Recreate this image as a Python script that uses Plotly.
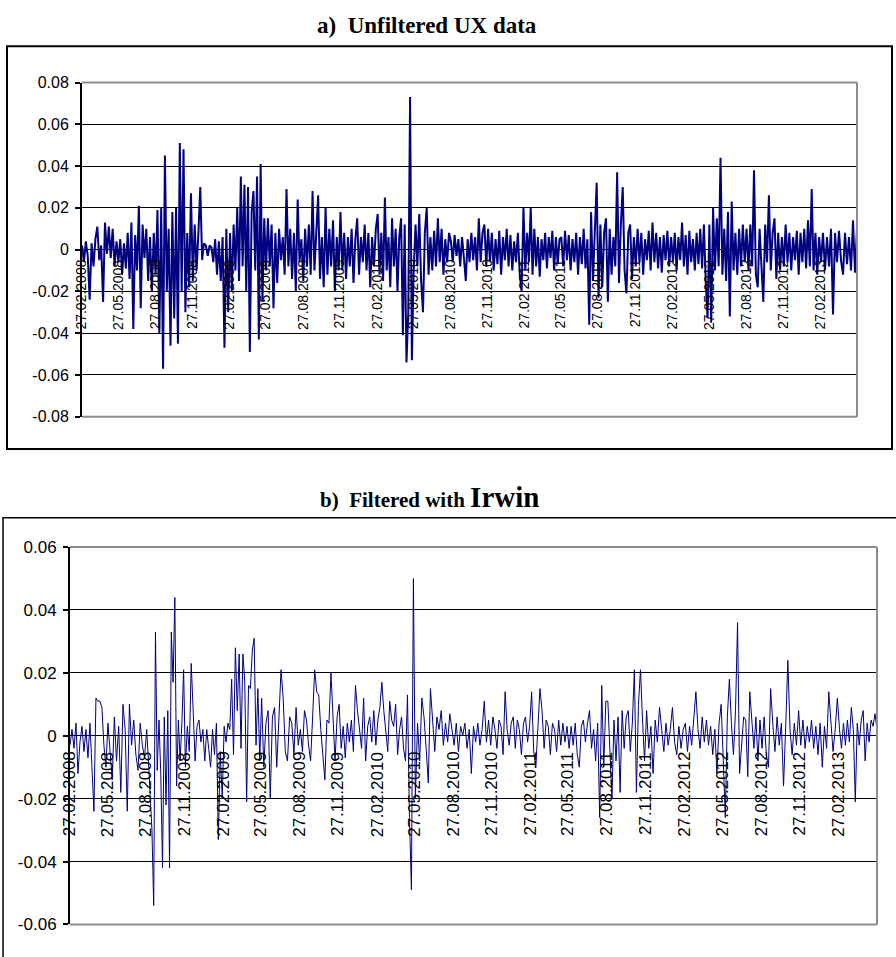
import numpy as np
import pandas as pd
import plotly.graph_objects as go

W, H = 896, 957

# Quarter labels on the category axis (one row of values per quarter below)
quarter_labels = [
    "27.02.2008", "27.05.2008", "27.08.2008", "27.11.2008",
    "27.02.2009", "27.05.2009", "27.08.2009", "27.11.2009",
    "27.02.2010", "27.05.2010", "27.08.2010", "27.11.2010",
    "27.02.2011", "27.05.2011", "27.08.2011", "27.11.2011",
    "27.02.2012", "27.05.2012", "27.08.2012", "27.11.2012",
    "27.02.2013",
]
series_end = "27.05.2013"

# a) unfiltered UX returns, in thousandths, one row per quarter
unfiltered = [
    [2, -6, 4, -3, -24, 3, -8, 5, 11, -5, 2, -25, 13, -2, 11, -4, 10, -8, 4],
    [-6, 5, -12, 3, -9, 8, -14, 13, -38, 7, -10, 21, -28, 12, -4, 10, -15, 6, -20, 8],
    [-12, 19, -40, 20, -57, 45, -20, 10, -46, 18, -33, 20, -45, 51, -20, 48, -30, 8, -18, 27],
    [-15, 12, -10, 8, 30, -5, 3, 2, -3, 2, 1, -6, 5, -12, 4, -15, 6, -47, 10, -30],
    [8, -20, 12, -10, 20, -15, 35, -8, 31, -20, 30, -49, 18, 28, -10, 35, -43, 41, -25, 15],
    [-10, 15, -8, 12, -28, 8, -16, 10, -5, 6, -12, 29, -8, 10, -14, 8, -20, 24, -6, 5],
    [-15, 10, -8, 12, -12, 28, -10, 8, 26, -14, 6, -18, 20, -12, 10, -8, 14, -20, 6, -10],
    [18, -10, 8, -14, 6, -8, 10, -16, 5, 15, -12, 6, -6, 12, -10, 8, -18, 6, -8, 10],
    [17, -12, 8, -15, 25, -10, 6, -18, 15, -8, 10, -20, 6, 15, -41, 12, -54, -30, 73, -53],
    [-10, 12, -8, 17, -15, -30, 8, 20, -12, 6, -10, 9, -8, 15, -6, 10, -12, 5, -6, 8],
    [4, -6, 7, -3, 5, -8, 6, -4, -15, 5, -6, 8, -5, 6, -10, 15, -6, 8, 12, -8],
    [10, -6, 8, -10, 5, -7, 9, -12, 6, -5, 10, -8, 7, -10, 4, -6, 8, -12, -20, 20],
    [-10, 8, -6, 20, -12, 10, -8, 6, -13, 5, -5, 8, -9, 6, -4, 9, -10, 6, -7, 5],
    [6, -8, 9, -5, 7, -10, 5, -6, 8, -12, 6, -7, 10, -9, 5, -36, 18, -15, 10, 32],
    [-23, 12, -18, 8, 15, -25, 10, -12, 6, -8, 37, -16, 12, 30, -10, -21, 8, 12, -14, 6],
    [-8, 10, -6, 8, -12, 5, -5, 9, -10, 13, -6, 8, -9, 6, -11, 7, -5, 9, -8, 6],
    [-6, 8, -10, 6, -5, 13, -8, 7, -12, 9, -6, 5, -10, 8, -7, 10, -9, 12, -15, -33],
    [12, -35, 20, -10, 15, -8, 44, -12, 10, -15, 18, -32, 23, -10, 8, -12, 10, -8, 12, -6],
    [10, -10, 12, -8, 38, -12, -18, 10, -8, -25, 12, -6, 26, -10, 8, 15, -14, 8, -10, 6],
    [-8, 12, -6, 8, -10, 6, -5, 9, -12, 8, -6, 10, -9, 14, -8, 29, -10, 8, -12, 6],
    [-6, 8, -10, 6, -8, 10, -31, 8, -6, 9, -5, -12, 8, -7, 6, -10, 14, -11, 10],
]

# b) returns filtered with Irwin, in thousandths, one row per quarter
filtered = [
    [-3, 2, -4, 4, -12, -2, 3, -5, 2, -7, 4, -9, -24, 12, 11, 11, 9, -3, -10],
    [4, -5, -14, 6, -8, 3, -18, 10, 2, -24, 10, -3, 5, -6, -11, 4, -3, -7],
    [2, -8, -18, -30, -54, 33, -11, 5, -12, -42, 6, -22, 8, -42, 33, 17, 44, -16, 5, -8, 4, 21],
    [-10, 3, -5, 23, 8, -8, 3, 5, -2, 2, -8, 2, -4, -10, 2, -6, 4, -33, -5, -20],
    [3, -2, 4, 2, 18, -6, 28, 8, 26, -4, 26, 17, -21, 16, 15, 27, 31, -3, 15, -8],
    [12, -10, 4, 8, -20, 6, 9, -10, 5, 21, 12, -5, -8, 6, 4, -6, 9, -3],
    [2, -5, 8, 5, -3, -8, 6, 21, 14, 13, 2, -6, -14, 5, 4, 20, 3, -8, 6],
    [10, -4, 3, -7, 4, -2, 5, -5, 16, 8, 2, -4, 12, -8, 3, 6, -2, 8, -3],
    [5, 9, 17, 8, 2, -5, 11, 5, 3, 10, -6, 2, 6, -4, -8, 13, -26, -49, 50],
    [-20, 4, -8, 12, 6, -4, -15, 15, 3, -5, 6, 2, 8, -3, 4, -2, 7, 1],
    [-3, 4, -5, 3, 0, 4, -4, 2, -12, 3, -2, 4, -3, 2, 11, -2, 5, -3],
    [6, 2, -4, 5, 3, -6, 14, 2, -3, 4, 6, -4, 5, 2, -6, 4, 6, -2, 3],
    [14, -5, -10, 4, 15, 8, -4, 5, 3, -6, 4, 2, -5, 5, -3, 4, -2, 3],
    [-4, 3, -3, 4, -6, -10, 3, 5, -2, 4, 8, -4, 2, -8, 4, -26, 16, -10, 11],
    [11, -6, -20, 5, -8, 6, -18, 8, -4, 6, 8, -5, 4, 21, -18, 10, 21, 5, -8],
    [8, -4, 3, -12, 5, -2, 9, 2, -5, 4, -3, 2, 9, -2, -6, 3, -4, 2],
    [4, -5, 3, -3, 5, 14, 2, -4, 6, -2, 5, -3, 3, -6, 2, -12, 4, 10],
    [-8, -26, 6, 18, 4, -6, 8, 36, -12, -4, 6, 5, -13, 14, 4, -4, 6, -8, 5],
    [-4, 6, -6, -10, 15, 4, -5, 6, -3, 4, -16, 3, 24, 2, -6, 4, -3, 8],
    [-3, 5, -4, 3, -2, 5, -4, 3, -6, 4, -10, 3, -4, 14, 4, -5, 2, 12],
    [2, -4, 4, -3, 5, -2, 9, 2, -21, 4, -3, 5, 8, -8, 4, -2, 5, 3, 7, 2],
]

y_ticks_a = [-0.08, -0.06, -0.04, -0.02, 0, 0.02, 0.04, 0.06, 0.08]
y_text_a = ["-0.08", "-0.06", "-0.04", "-0.02", "0", "0.02", "0.04", "0.06", "0.08"]
y_ticks_b = [-0.06, -0.04, -0.02, 0, 0.02, 0.04, 0.06]
y_text_b = ["-0.06", "-0.04", "-0.02", "0", "0.02", "0.04", "0.06"]

bounds = list(pd.to_datetime(quarter_labels + [series_end], format="%d.%m.%Y"))


def spread(rows):
    """Place each quarter's observations evenly between its label dates."""
    xs, ys = [], []
    last = len(rows) - 1
    for k, row in enumerate(rows):
        t0, t1 = bounds[k], bounds[k + 1]
        n = len(row)
        denom = n - 1 if k == last else n
        for i, v in enumerate(row):
            xs.append(t0 + (t1 - t0) * i / denom)
            ys.append(v / 1000.0)
    return xs, ys


xa, ya = spread(unfiltered)
xb, yb = spread(filtered)

NAVY = "#000080"
FONT = "Liberation Sans, Arial, sans-serif"
SERIF = "Liberation Serif, Times New Roman, serif"
NB = "\u00a0"


def px(x):
    return x / W


def py(y):
    return 1 - y / H


# plot-area pixel boxes (left, top, right, bottom)
box_a = (82, 75, 857, 416)
box_b = (70, 549, 877, 934)

fig = go.Figure()
fig.add_trace(go.Scatter(x=xa, y=ya, mode="lines", line=dict(color=NAVY, width=2),
                         xaxis="x", yaxis="y", hoverinfo="skip", showlegend=False))
fig.add_trace(go.Scatter(x=xb, y=yb, mode="lines", line=dict(color=NAVY, width=1),
                         xaxis="x2", yaxis="y2", hoverinfo="skip", showlegend=False))

tick_dates = bounds[:-1]


def x_axis(box):
    l, t, r, b = box
    return dict(
        domain=[px(l), px(r)], range=[bounds[0], bounds[-1]],
        anchor="free", position=(py(t) + py(b)) / 2,
        showticklabels=False, ticks="",
        showgrid=False, zeroline=False, showline=False,
    )


def y_axis(box, anchor, rng, vals, text, size):
    l, t, r, b = box
    return dict(
        domain=[py(b), py(t)], range=rng, anchor=anchor,
        tickmode="array", tickvals=vals, ticktext=text,
        tickfont=dict(family=FONT, size=size, color="black"),
        ticks="outside", ticklen=5, tickwidth=1.5, tickcolor="black",
        ticklabelstandoff=3,
        showgrid=True, gridcolor="black", gridwidth=1.3,
        showline=True, linecolor="black", linewidth=2, zeroline=False,
    )


shapes = []
for (l, t, r, b), lw in ((box_a, 2), (box_b, 2)):
    for x0, y0, x1, y1 in ((l, t, r, t), (r, t, r, b), (l, b, r, b)):
        shapes.append(dict(type="line", xref="paper", yref="paper", layer="above",
                           x0=px(x0), y0=py(y0), x1=px(x1), y1=py(y1),
                           line=dict(color="#8c8c8c", width=lw)))
# outer frames around each chart
shapes.append(dict(type="rect", xref="paper", yref="paper",
                   x0=px(7), y0=py(449), x1=px(892), y1=py(38),
                   line=dict(color="black", width=2)))
shapes.append(dict(type="rect", xref="paper", yref="paper",
                   x0=px(3), y0=-0.02, x1=1.02, y1=py(519),
                   line=dict(color="black", width=1.5)))

annotations = [
    dict(text=f"<b>a){NB}{NB}Unfiltered UX data</b>", xref="paper", yref="paper",
         x=px(427), y=py(17), xanchor="center", yanchor="middle", showarrow=False,
         font=dict(family=SERIF, size=23, color="black")),
    dict(text=f"<b>b){NB}{NB}Filtered with <span style='font-size:29px'>Irwin</span></b>",
         xref="paper", yref="paper", x=px(429), y=py(498), xanchor="center",
         yanchor="middle", showarrow=False,
         font=dict(family=SERIF, size=21, color="black")),
]

# quarter date labels hang below the zero line, rotated to read upwards
for xref, yref, size, gap in (("x", "y", 14, 9), ("x2", "y2", 17, 15)):
    for d, lab in zip(tick_dates, quarter_labels):
        annotations.append(dict(
            text=lab, x=d, y=0, xref=xref, yref=yref, textangle=-90,
            xanchor="center", yanchor="top", yshift=-gap, xshift=-1,
            showarrow=False, borderpad=0,
            font=dict(family=FONT, size=size, color="black")))

fig.update_layout(
    width=W, height=H, margin=dict(l=0, r=0, t=0, b=0),
    paper_bgcolor="white", plot_bgcolor="white",
    xaxis=x_axis(box_a),
    yaxis=y_axis(box_a, "x", [-0.08, 0.08], y_ticks_a, y_text_a, 16),
    xaxis2=x_axis(box_b),
    yaxis2=y_axis(box_b, "x2", [-0.06, 0.06], y_ticks_b, y_text_b, 17),
    shapes=shapes, annotations=annotations,
)

fig.write_html("out.html")
